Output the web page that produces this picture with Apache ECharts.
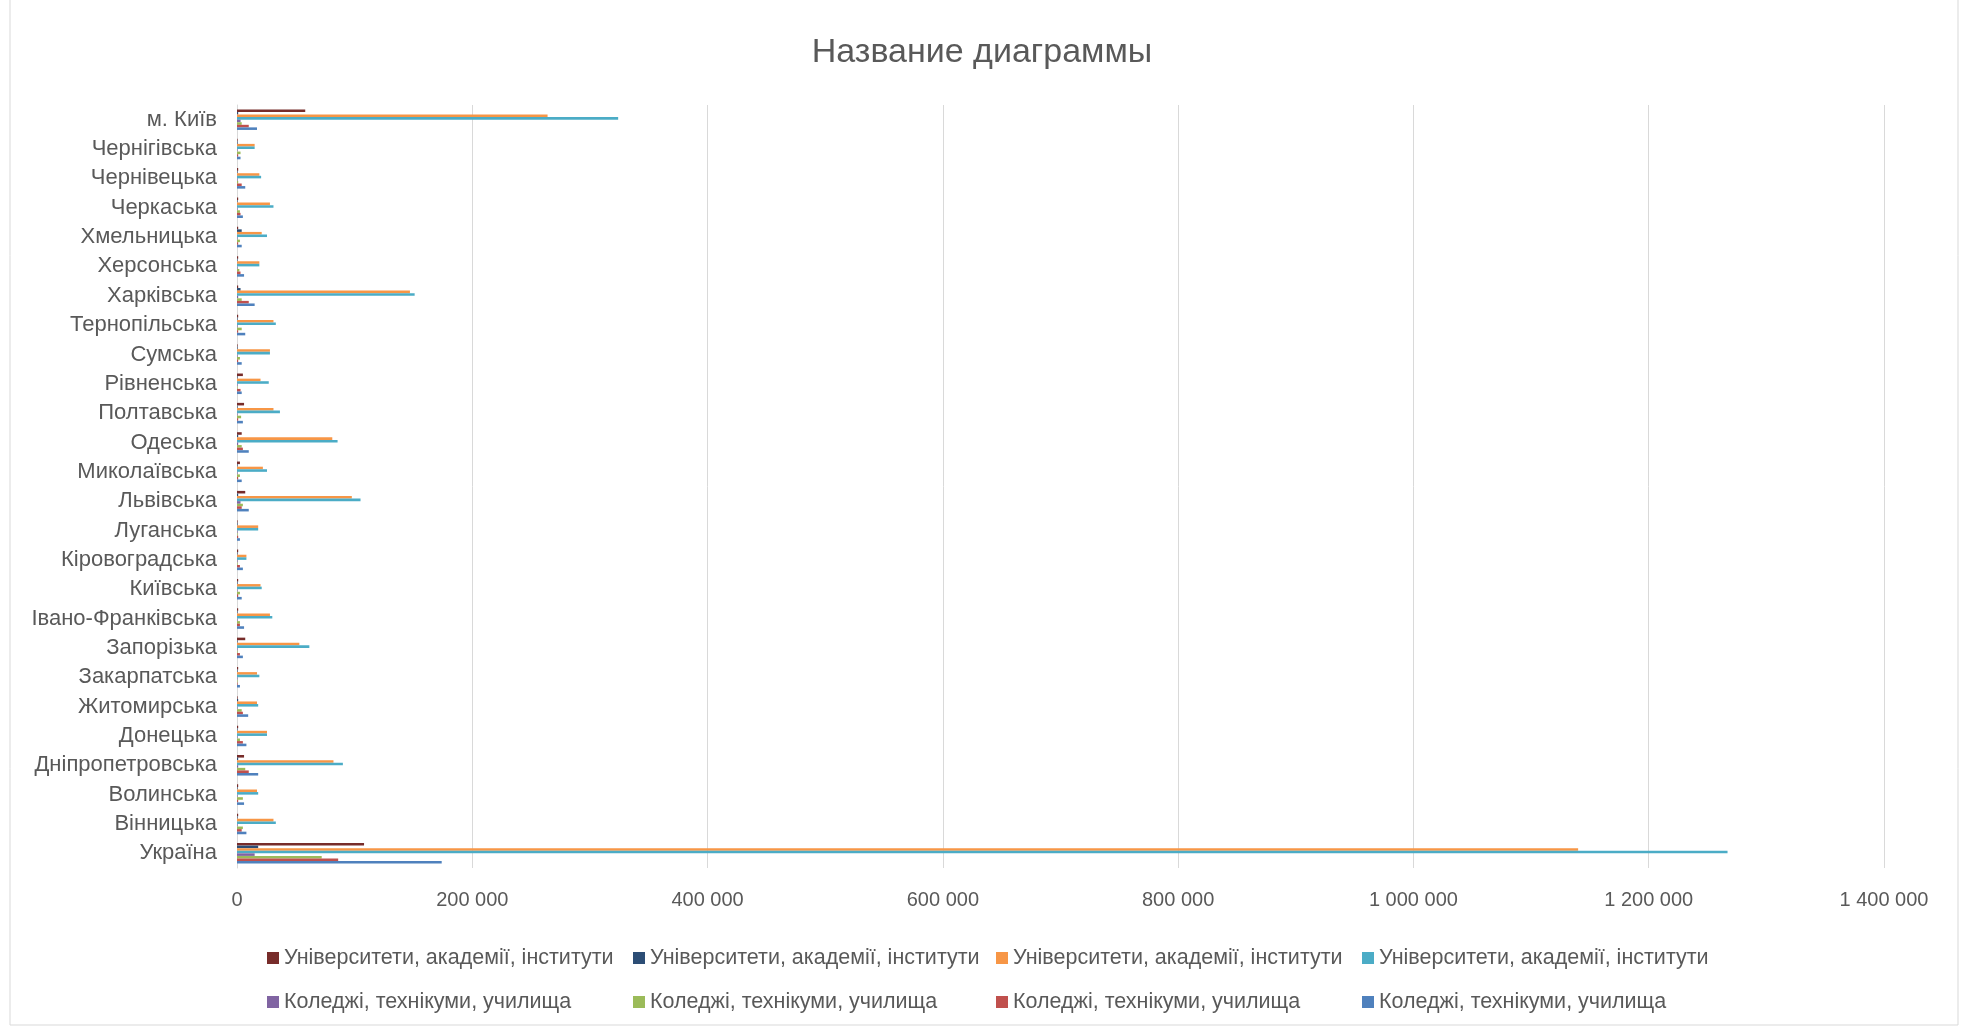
<!DOCTYPE html>
<html>
<head>
<meta charset="utf-8">
<script src="https://cdn.jsdelivr.net/npm/echarts@6/dist/echarts.min.js"></script>
<style>
  html, body { margin: 0; padding: 0; background: #fff; }
  #chart { width: 1964px; height: 1030px; }
</style>
</head>
<body>
<div id="chart"></div>
<script>
// regions, bottom to top (as on the picture)
var regions = ['Україна', 'Вінницька', 'Волинська', 'Дніпропетровська', 'Донецька', 'Житомирська',
  'Закарпатська', 'Запорізька', 'Івано-Франківська', 'Київська', 'Кіровоградська', 'Луганська',
  'Львівська', 'Миколаївська', 'Одеська', 'Полтавська', 'Рівненська', 'Сумська', 'Тернопільська',
  'Харківська', 'Херсонська', 'Хмельницька', 'Черкаська', 'Чернівецька', 'Чернігівська', 'м. Київ'];

var uniLabel = 'Університети, академії, інститути';
var colLabel = 'Коледжі, технікуми, училища';

// Університети, академії, інститути
var uniMaroon = [108000, 1000, 1000, 6000, 1000, 500, 1000, 7000, 1000, 1000, 1000, 500, 7000, 2500, 4000, 6000, 5000, 500, 1000, 1000, 1000, 1000, 1000, 1000, 500, 58000];
var uniNavy   = [18000, 500, 500, 1000, 500, 1000, 500, 500, 500, 500, 500, 500, 1000, 500, 1000, 500, 500, 500, 500, 3000, 500, 4000, 500, 500, 500, 1000];
var uniOrange = [1140000, 31000, 17000, 82000, 25500, 17000, 17000, 53000, 28000, 20000, 8000, 18000, 97600, 22000, 81000, 31000, 20000, 28000, 31000, 147000, 19000, 21000, 28000, 19000, 15000, 264000];
var uniCyan   = [1267000, 33000, 18000, 90000, 25500, 18000, 19000, 61500, 30000, 21000, 8000, 18000, 105000, 25500, 85500, 36500, 27000, 28000, 33000, 151000, 19000, 25500, 31000, 20500, 15000, 324000];
// Коледжі, технікуми, училища
var colPurple = [15000, 500, 500, 1000, 500, 500, 500, 500, 500, 500, 500, 500, 3000, 500, 1000, 500, 500, 500, 500, 1000, 500, 500, 500, 500, 500, 3000];
var colGreen  = [72000, 5000, 5000, 7000, 2500, 4000, 500, 500, 2500, 2500, 500, 500, 5000, 2500, 4000, 3500, 500, 2500, 4000, 4000, 2000, 2500, 2500, 1000, 3000, 4000];
var colRed    = [86000, 4000, 1000, 10000, 5000, 5000, 500, 2500, 2500, 1000, 2500, 1000, 4000, 1000, 5000, 1000, 3000, 1000, 1000, 10000, 3000, 1000, 3000, 4000, 1000, 10000];
var colBlue   = [174000, 8000, 6000, 18000, 8000, 9500, 2500, 5000, 6000, 4000, 5000, 2500, 10000, 4000, 10000, 5000, 4000, 4000, 7000, 15000, 6000, 4000, 5000, 7000, 3000, 17000];

var xTicks = [0, 200000, 400000, 600000, 800000, 1000000, 1200000, 1400000];

var font = '"Liberation Sans", "DejaVu Sans", sans-serif';
var grey = '#595959';

function fmt(v) {
  return String(v).replace(/\B(?=(\d{3})+(?!\d))/g, '\u00a0');
}

// series from top to bottom inside each group
var seriesDefs = [
  { id: 'u4', label: uniLabel, color: '#772C2A', data: uniMaroon },
  { id: 'u3', label: uniLabel, color: '#2C4D75', data: uniNavy },
  { id: 'u2', label: uniLabel, color: '#F79646', data: uniOrange },
  { id: 'u1', label: uniLabel, color: '#4BACC6', data: uniCyan },
  { id: 'c4', label: colLabel, color: '#8064A2', data: colPurple },
  { id: 'c3', label: colLabel, color: '#9BBB59', data: colGreen },
  { id: 'c2', label: colLabel, color: '#C0504D', data: colRed },
  { id: 'c1', label: colLabel, color: '#4F81BD', data: colBlue }
];

var labelById = {};
var series = seriesDefs.map(function(s) {
  labelById[s.id] = s.label;
  return {
    name: s.id,
    type: 'bar',
    data: s.data,
    itemStyle: { color: s.color },
    barGap: '0%',
    barCategoryGap: '30%'
  };
});

// legend laid out as a 4x2 grid, one small legend per cell
var legendCols = [262, 628, 991, 1357];
var legendRows = [942, 986];
var legendOrder = [['u4', 'u3', 'u2', 'u1'], ['c4', 'c3', 'c2', 'c1']];

var legends = [];
legendOrder.forEach(function(row, r) {
  row.forEach(function(id, c) {
    legends.push({
      data: [id],
      left: legendCols[c],
      top: legendRows[r],
      icon: 'rect',
      itemWidth: 12,
      itemHeight: 12,
      formatter: function(name) { return labelById[name]; },
      textStyle: { color: grey, fontSize: 21.5, fontFamily: font }
    });
  });
});

var option = {
  animation: false,
  backgroundColor: '#fff',
  title: {
    text: 'Название диаграммы',
    left: 'center',
    top: 31,
    textStyle: { color: grey, fontSize: 34, fontWeight: 'normal', fontFamily: font }
  },
  legend: legends,
  grid: { left: 237, right: 80, top: 105, bottom: 162, containLabel: false },
  xAxis: {
    type: 'value',
    min: xTicks[0],
    max: xTicks[xTicks.length - 1],
    interval: xTicks[1] - xTicks[0],
    axisLine: { show: false },
    axisTick: { show: false },
    splitLine: { show: true, lineStyle: { color: '#d9d9d9', width: 1 } },
    axisLabel: { color: grey, fontSize: 20, fontFamily: font, margin: 22, formatter: fmt }
  },
  yAxis: {
    type: 'category',
    data: regions,
    axisLine: { show: true, lineStyle: { color: '#d9d9d9' } },
    axisTick: { show: false },
    axisLabel: { color: grey, fontSize: 22, fontFamily: font, margin: 20, interval: 0 }
  },
  graphic: [{
    type: 'rect',
    shape: { x: 10, y: -2, width: 1948, height: 1027 },
    style: { fill: 'none', stroke: '#d9d9d9', lineWidth: 1 },
    silent: true
  }],
  series: series
};

var chart = echarts.init(document.getElementById('chart'));
chart.setOption(option);
</script>
</body>
</html>
